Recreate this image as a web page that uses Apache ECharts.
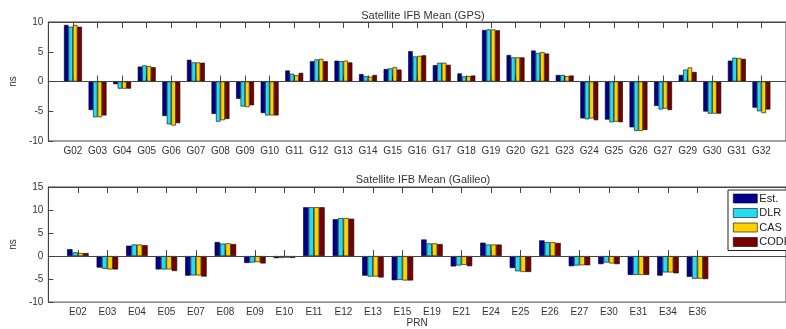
<!DOCTYPE html>
<html>
<head>
<meta charset="utf-8">
<script src="https://cdn.jsdelivr.net/npm/echarts@6/dist/echarts.min.js"></script>
<style>
  html, body { margin: 0; padding: 0; background: #fff; }
  #chart { width: 786px; height: 329px; }
</style>
</head>
<body>
<div id="chart"></div>
<script>
// GPS satellites
const gpsPrn = ["G02", "G03", "G04", "G05", "G06", "G07", "G08", "G09", "G10", "G11",
  "G12", "G13", "G14", "G15", "G16", "G17", "G18", "G19", "G20", "G21",
  "G23", "G24", "G25", "G26", "G27", "G29", "G30", "G31", "G32"];
const gpsEst = [9.5, -4.8, -0.45, 2.5, -5.8, 3.65, -5.45, -2.9, -5.3, 1.85,
  3.4, 3.5, 1.25, 2.1, 5.1, 2.75, 1.35, 8.65, 4.45, 5.2,
  1.1, -6.2, -6.4, -7.7, -4.1, 1.1, -5.05, 3.5, -4.4];
const gpsDlr = [9.2, -6.0, -1.2, 2.7, -7.2, 3.2, -6.75, -4.2, -5.7, 1.3,
  3.7, 3.4, 0.9, 2.2, 4.2, 3.15, 0.85, 8.75, 4.05, 4.8,
  1.1, -6.35, -6.85, -8.3, -4.7, 2.0, -5.4, 4.0, -5.0];
const gpsCas = [9.5, -6.0, -1.2, 2.6, -7.4, 3.2, -6.5, -4.3, -5.7, 1.05,
  3.8, 3.5, 0.8, 2.4, 4.3, 3.15, 0.9, 8.75, 4.05, 4.95,
  0.9, -6.2, -6.75, -8.3, -4.55, 2.35, -5.4, 3.95, -5.3];
const gpsCode = [9.2, -5.7, -1.2, 2.4, -7.0, 3.15, -6.3, -4.0, -5.7, 1.45,
  3.4, 3.2, 1.1, 2.0, 4.4, 2.8, 1.0, 8.6, 4.05, 4.7,
  1.0, -6.5, -6.85, -8.15, -4.8, 1.6, -5.4, 3.8, -4.7];

// Galileo satellites
const galPrn = ["E02", "E03", "E04", "E05", "E07", "E08", "E09", "E10", "E11", "E12",
  "E13", "E15", "E19", "E21", "E24", "E25", "E26", "E27", "E30", "E31", "E34", "E36"];
const galEst = [1.5, -2.5, 2.25, -2.9, -4.25, 3.05, -1.5, -0.45, 10.6, 8.0,
  -4.25, -5.25, 3.6, -2.25, 2.9, -2.6, 3.4, -2.2, -1.75, -4.1, -4.25, -4.5];
const galDlr = [0.8, -2.75, 2.5, -2.9, -4.2, 2.7, -1.4, -0.4, 10.6, 8.25,
  -4.45, -5.15, 2.75, -2.05, 2.5, -3.3, 3.0, -2.05, -1.4, -4.1, -3.55, -4.9];
const galCas = [0.65, -2.9, 2.5, -2.9, -4.2, 2.75, -1.3, -0.35, 10.6, 8.25,
  -4.45, -5.3, 2.75, -1.9, 2.5, -3.45, 3.0, -2.0, -1.6, -4.1, -3.55, -4.9];
const galCode = [0.65, -2.9, 2.35, -3.25, -4.45, 2.6, -1.6, -0.4, 10.6, 8.1,
  -4.65, -5.3, 2.6, -2.2, 2.5, -3.45, 2.85, -2.0, -1.75, -4.1, -3.75, -5.0];

const names = ["Est.", "DLR", "CAS", "CODE"];
const colors = ["#000090", "#22DDF5", "#FFD200", "#7A0000"];

const font = "'Liberation Sans', Arial, sans-serif";
const axisColor = "#444";
const textColor = "#333";

const pos = (prn) => prn.map((_, i) => i + 1);
const pairs = (vals) => vals.map((v, i) => [i + 1, v]);

function xAxes(gridIndex, prn, max, withName) {
  const ticks = pos(prn);
  return [
    {
      gridIndex, type: "value", position: "bottom", min: 0, max,
      axisLine: { lineStyle: { color: axisColor } },
      axisTick: { inside: true, length: 6, customValues: ticks, lineStyle: { color: axisColor } },
      axisLabel: {
        customValues: ticks, formatter: (v) => prn[v - 1] || "",
        fontSize: 10, color: textColor, fontFamily: font, margin: 5
      },
      splitLine: { show: false },
      name: withName ? "PRN" : "", nameLocation: "middle", nameGap: 14,
      nameTextStyle: { fontSize: 10, color: textColor, fontFamily: font }
    },
    {
      gridIndex, type: "value", position: "top", min: 0, max,
      axisLine: { lineStyle: { color: axisColor } },
      axisTick: { inside: true, length: 6, customValues: ticks, lineStyle: { color: axisColor } },
      axisLabel: { show: false },
      splitLine: { show: false }
    }
  ];
}

function yAxis(gridIndex, min, max) {
  return {
    gridIndex, type: "value", min, max, interval: 5,
    axisLine: { show: true, lineStyle: { color: axisColor } },
    axisTick: { show: true, inside: true, length: 5, lineStyle: { color: axisColor } },
    axisLabel: { fontSize: 10, color: textColor, fontFamily: font, margin: 5 },
    splitLine: { show: false },
    name: "ns", nameLocation: "middle", nameGap: 22,
    nameTextStyle: { fontSize: 10, color: textColor, fontFamily: font }
  };
}

function barSeries(axisBase, sets) {
  return sets.map((vals, k) => ({
    name: names[k], type: "bar",
    xAxisIndex: axisBase, yAxisIndex: axisBase / 2,
    data: pairs(vals),
    barWidth: "18.2%", barGap: "0%",
    itemStyle: { color: colors[k], borderColor: "#000", borderWidth: 0.6 },
    emphasis: { disabled: true },
    markLine: k === 0 ? {
      silent: true, symbol: "none", label: { show: false },
      lineStyle: { color: axisColor, width: 1, type: "solid" },
      data: [{ yAxis: 0 }]
    } : undefined
  }));
}

const chart = echarts.init(document.getElementById("chart"));
chart.setOption({
  animation: false,
  backgroundColor: "#fff",
  title: [
    { text: "Satellite IFB Mean (GPS)", left: 418, top: 5, textAlign: "center",
      textStyle: { fontSize: 11, fontWeight: "normal", color: textColor, fontFamily: font } },
    { text: "Satellite IFB Mean (Galileo)", left: 418, top: 169, textAlign: "center",
      textStyle: { fontSize: 11, fontWeight: "normal", color: textColor, fontFamily: font } }
  ],
  legend: {
    orient: "vertical", left: 728, top: 190,
    data: names,
    icon: "rect",
    itemWidth: 24, itemHeight: 9, itemGap: 3.5,
    padding: [3, 5, 3, 5],
    itemStyle: { borderColor: "#000", borderWidth: 0.6 },
    borderColor: "#222", borderWidth: 1, backgroundColor: "#fff",
    textStyle: { fontSize: 11, color: "#222", fontFamily: font, padding: [0, 0, 0, -3] }
  },
  grid: [
    { left: 39, top: 22, height: 119, right: -12, show: true, borderColor: axisColor, borderWidth: 1 },
    { left: 39, top: 187, height: 118, right: -10, show: true, borderColor: axisColor, borderWidth: 1 }
  ],
  xAxis: [...xAxes(0, gpsPrn, 30, false), ...xAxes(1, galPrn, 25, true)],
  yAxis: [yAxis(0, -10, 10), yAxis(1, -10, 15)],
  series: [
    ...barSeries(0, [gpsEst, gpsDlr, gpsCas, gpsCode]),
    ...barSeries(2, [galEst, galDlr, galCas, galCode])
  ]
});
</script>
</body>
</html>
